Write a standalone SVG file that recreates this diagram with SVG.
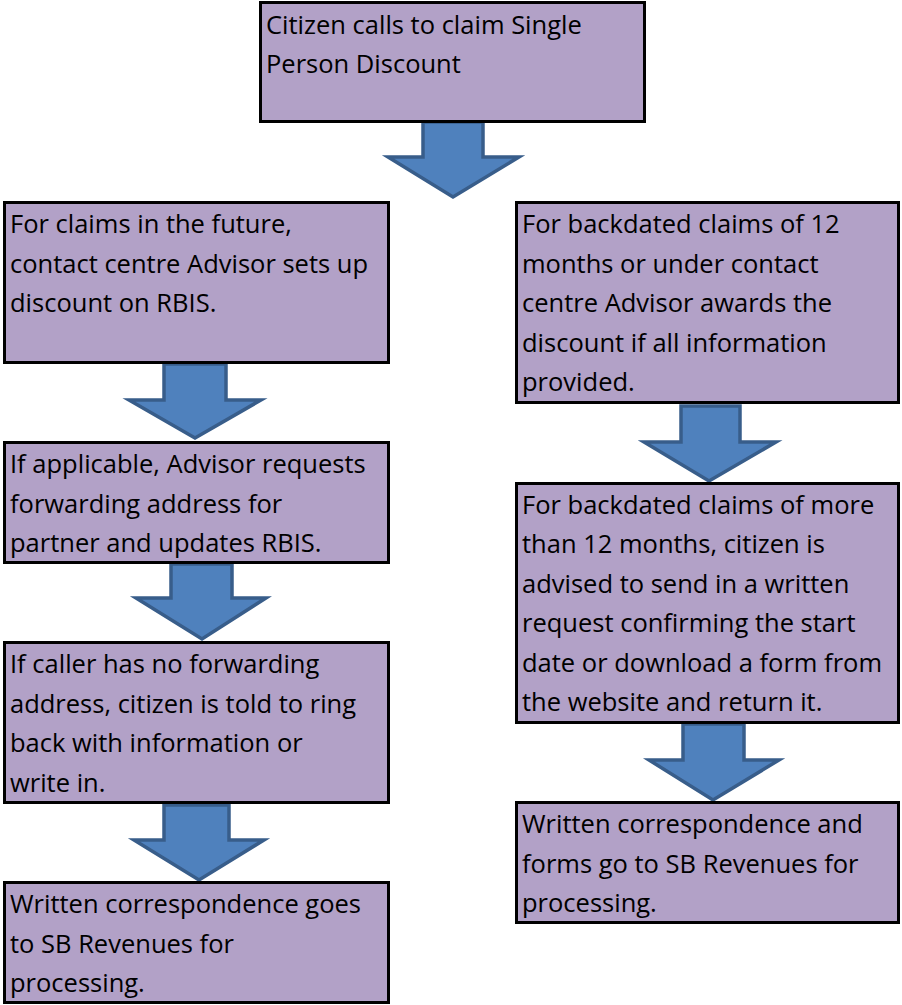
<svg xmlns="http://www.w3.org/2000/svg" width="902" height="1005" viewBox="0 0 902 1005">
  <style>
    .box { fill: #b2a1c7; stroke: #000; stroke-width: 3; }
    .lbl { font-family: "Open Sans", "Liberation Sans", sans-serif; font-size: 25.5px; fill: #000; }
    .arrow { fill: #4f81bd; stroke: #385d8a; stroke-width: 3.5; stroke-linejoin: miter; }
  </style>
  <rect width="902" height="1005" fill="#fff"/>

  <!-- block arrows between steps -->
  <g id="connectors">
    <polygon class="arrow" points="423,122 483,122 483,157 519,157 453,197 388,157 423,157"/>
    <polygon class="arrow" points="164,364 226,364 226,400 261,400 195,438 129,400 164,400"/>
    <polygon class="arrow" points="171,564 232,564 232,598 266,598 202,639 136,598 171,598"/>
    <polygon class="arrow" points="164,805 229,805 229,840 264,840 199,880 134,840 164,840"/>
    <polygon class="arrow" points="681,406 740,406 740,442 776,442 709,481 644,442 681,442"/>
    <polygon class="arrow" points="683,724 744,724 744,760 779,760 713,800 649,760 683,760"/>
  </g>

  <g id="start">
    <rect class="box" x="260.5" y="2.5" width="384" height="119"/>
    <text class="lbl" x="266"><tspan x="266" y="34">Citizen calls to claim Single</tspan><tspan x="266" y="73">Person Discount</tspan></text>
  </g>

  <g id="future-claims">
    <rect class="box" x="4.5" y="202.5" width="384" height="160"/>
    <text class="lbl"><tspan x="10" y="233">For claims in the future,</tspan><tspan x="10" y="273">contact centre Advisor sets up</tspan><tspan x="10" y="312">discount on RBIS.</tspan></text>
  </g>

  <g id="forwarding-address">
    <rect class="box" x="4.5" y="442.5" width="384" height="120"/>
    <text class="lbl"><tspan x="10" y="473">If applicable, Advisor requests</tspan><tspan x="10" y="513">forwarding address for</tspan><tspan x="10" y="552">partner and updates RBIS.</tspan></text>
  </g>

  <g id="no-forwarding-address">
    <rect class="box" x="4.5" y="642.5" width="384" height="160"/>
    <text class="lbl"><tspan x="10" y="673">If caller has no forwarding</tspan><tspan x="10" y="713">address, citizen is told to ring</tspan><tspan x="10" y="752">back with information or</tspan><tspan x="10" y="792">write in.</tspan></text>
  </g>

  <g id="left-processing">
    <rect class="box" x="4.5" y="882.5" width="384" height="120"/>
    <text class="lbl"><tspan x="10" y="913">Written correspondence goes</tspan><tspan x="10" y="953">to SB Revenues for</tspan><tspan x="10" y="992">processing.</tspan></text>
  </g>

  <g id="backdated-under-12">
    <rect class="box" x="516.5" y="202.5" width="382" height="200"/>
    <text class="lbl"><tspan x="522" y="233">For backdated claims of 12</tspan><tspan x="522" y="273">months or under contact</tspan><tspan x="522" y="312">centre Advisor awards the</tspan><tspan x="522" y="352">discount if all information</tspan><tspan x="522" y="391">provided.</tspan></text>
  </g>

  <g id="backdated-over-12">
    <rect class="box" x="516.5" y="483.5" width="382" height="239"/>
    <text class="lbl"><tspan x="522" y="514">For backdated claims of more</tspan><tspan x="522" y="553">than 12 months, citizen is</tspan><tspan x="522" y="593">advised to send in a written</tspan><tspan x="522" y="632">request confirming the start</tspan><tspan x="522" y="672">date or download a form from</tspan><tspan x="522" y="711">the website and return it.</tspan></text>
  </g>

  <g id="right-processing">
    <rect class="box" x="516.5" y="802.5" width="382" height="120"/>
    <text class="lbl"><tspan x="522" y="833">Written correspondence and</tspan><tspan x="522" y="873">forms go to SB Revenues for</tspan><tspan x="522" y="912">processing.</tspan></text>
  </g>
</svg>
